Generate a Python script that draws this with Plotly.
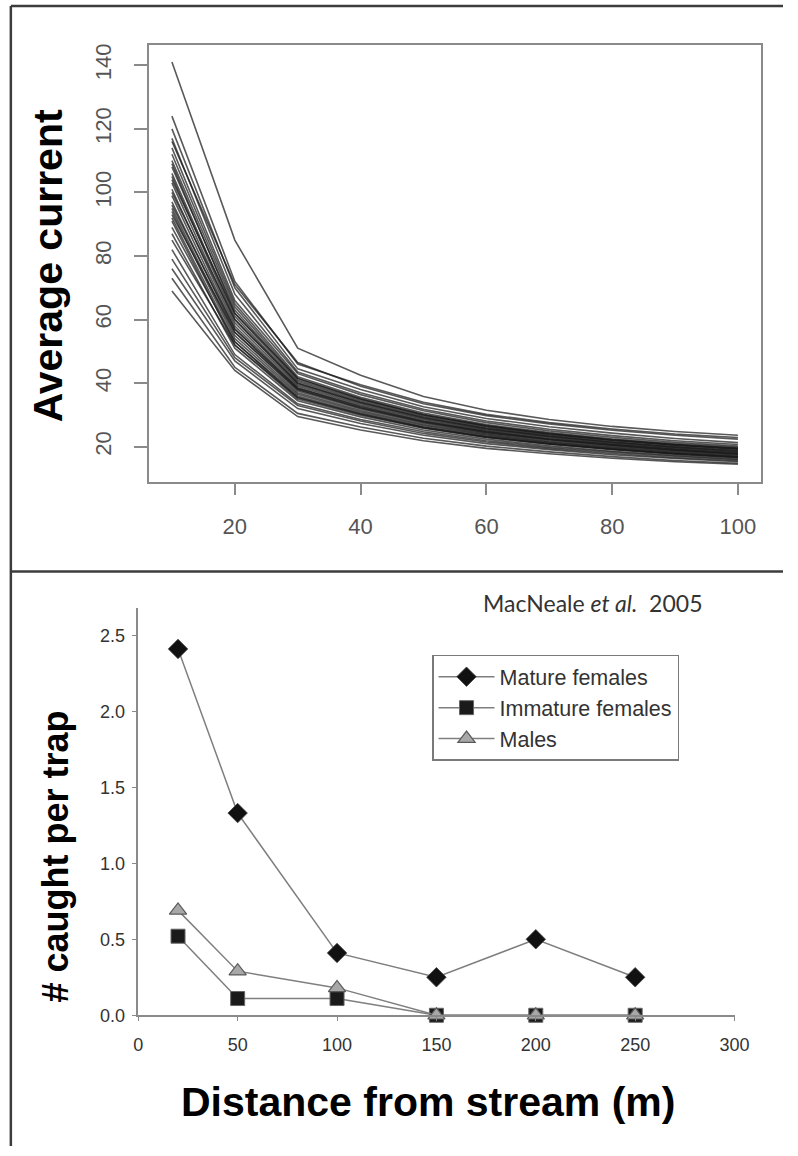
import plotly.graph_objects as go

# ---------------- data: top panel (average current vs distance) ----------------
dist_top = [10, 20, 30, 40, 50, 60, 70, 80, 90, 100]
curves = [
    [141, 85, 51.0, 42.5, 35.8, 31.5, 28.6, 26.4, 24.8, 23.6],
    [124, 72, 46.0, 39.5, 34.0, 30.2, 27.6, 25.6, 24.0, 22.9],
    [120, 70, 44.5, 38.0, 32.6, 28.9, 26.3, 24.3, 22.6, 21.3],
    [117, 68, 43.5, 37.0, 31.8, 28.1, 25.5, 23.5, 21.9, 20.7],
    [116, 71, 46.5, 39.0, 33.5, 29.8, 27.2, 25.2, 23.6, 22.4],
    [114, 66, 43.0, 36.4, 31.3, 27.6, 25.0, 23.0, 21.4, 20.2],
    [112, 65, 42.0, 35.6, 30.6, 27.0, 24.5, 22.5, 21.0, 19.8],
    [110, 64, 41.5, 35.0, 30.0, 26.5, 24.0, 22.1, 20.6, 19.5],
    [109, 62, 40.5, 34.4, 29.6, 26.2, 23.8, 21.9, 20.4, 19.2],
    [108, 63, 41.0, 34.8, 30.0, 26.6, 24.1, 22.2, 20.7, 19.5],
    [106, 61, 40.0, 33.9, 29.1, 25.7, 23.3, 21.4, 19.9, 18.7],
    [105, 60, 39.5, 33.6, 28.9, 25.6, 23.2, 21.3, 19.8, 18.6],
    [104, 62, 41.5, 35.2, 30.2, 26.7, 24.2, 22.2, 20.6, 19.3],
    [103, 59, 39.0, 33.2, 28.6, 25.3, 22.9, 21.0, 19.5, 18.3],
    [101, 58, 38.5, 32.8, 28.2, 25.0, 22.6, 20.8, 19.3, 18.1],
    [100, 60, 40.0, 34.0, 29.3, 25.9, 23.5, 21.6, 20.1, 18.9],
    [99, 57, 38.0, 32.3, 27.8, 24.6, 22.3, 20.5, 19.0, 17.8],
    [97, 56, 37.5, 31.9, 27.4, 24.2, 21.9, 20.1, 18.7, 17.5],
    [96, 57, 38.5, 32.6, 28.0, 24.8, 22.4, 20.6, 19.1, 17.9],
    [95, 55, 37.0, 31.4, 27.0, 23.9, 21.6, 19.8, 18.4, 17.2],
    [94, 54, 36.5, 31.0, 26.7, 23.6, 21.4, 19.6, 18.2, 17.0],
    [93, 56, 38.0, 32.2, 27.7, 24.5, 22.2, 20.4, 18.9, 17.7],
    [92, 53, 36.0, 30.6, 26.3, 23.3, 21.1, 19.3, 17.9, 16.8],
    [91, 52, 35.0, 29.9, 25.8, 22.9, 20.8, 19.1, 17.7, 16.6],
    [89, 53, 35.5, 30.2, 26.0, 23.0, 20.9, 19.2, 17.8, 16.7],
    [87, 51, 34.5, 29.4, 25.3, 22.4, 20.3, 18.6, 17.3, 16.2],
    [85, 52, 35.5, 30.3, 26.1, 23.1, 21.0, 19.3, 17.9, 16.8],
    [82, 49, 33.5, 28.6, 24.7, 21.9, 19.9, 18.3, 17.0, 15.9],
    [79, 48, 33.0, 28.1, 24.2, 21.5, 19.5, 17.9, 16.6, 15.6],
    [76, 47, 32.0, 27.3, 23.6, 21.0, 19.1, 17.5, 16.3, 15.3],
    [73, 45, 30.5, 26.2, 22.7, 20.2, 18.4, 16.9, 15.7, 14.8],
    [69, 44, 29.5, 25.3, 21.9, 19.5, 17.8, 16.4, 15.3, 14.5],
]
top_xticks = [20, 40, 60, 80, 100]
top_yticks = [20, 40, 60, 80, 100, 120, 140]

# ---------------- data: bottom panel (catch per trap) ----------------
dist_bottom = [20, 50, 100, 150, 200, 250]
mature_females = [2.41, 1.33, 0.41, 0.25, 0.50, 0.25]
immature_females = [0.52, 0.11, 0.11, 0.0, 0.0, 0.0]
males = [0.69, 0.29, 0.18, 0.0, 0.0, 0.0]
bottom_xticks = [0, 50, 100, 150, 200, 250, 300]
bottom_yticks = [0.0, 0.5, 1.0, 1.5, 2.0, 2.5]
bottom_yticklabels = ["0.0", "0.5", "1.0", "1.5", "2.0", "2.5"]

W, H = 798, 1156
def px(x):
    return x / W
def py(y):
    return 1 - y / H

SANS = "Liberation Sans, Arial, sans-serif"

fig = go.Figure()

for c in curves:
    fig.add_trace(go.Scatter(
        x=dist_top, y=c, mode="lines", showlegend=False, hoverinfo="skip",
        line=dict(color="rgba(25,25,25,0.72)", width=1.6),
        xaxis="x", yaxis="y"))

line_col = "#7f7f7f"
fig.add_trace(go.Scatter(
    x=dist_bottom, y=mature_females, mode="lines+markers", name="Mature females",
    line=dict(color=line_col, width=1.5),
    marker=dict(symbol="diamond", size=15, color="#111111",
                line=dict(color="#444444", width=0.8)),
    cliponaxis=False, xaxis="x2", yaxis="y2"))
fig.add_trace(go.Scatter(
    x=dist_bottom, y=immature_females, mode="lines+markers", name="Immature females",
    line=dict(color=line_col, width=1.5),
    marker=dict(symbol="square", size=14, color="#1a1a1a",
                line=dict(color="#666666", width=1)),
    cliponaxis=False, xaxis="x2", yaxis="y2"))
fig.add_trace(go.Scatter(
    x=dist_bottom, y=males, mode="lines+markers", name="Males",
    line=dict(color=line_col, width=1.5),
    marker=dict(symbol="triangle-up", size=15, color="#a8a8a8",
                line=dict(color="#5a5a5a", width=1.2)),
    cliponaxis=False, xaxis="x2", yaxis="y2"))

axis_col = "#8a8a8a"
tick_font_top = dict(family=SANS, size=22, color="#555555")
tick_font_bot = dict(family=SANS, size=18, color="#333333")

fig.update_layout(
    width=W, height=H, autosize=False,
    margin=dict(l=0, r=0, t=0, b=0),
    paper_bgcolor="white", plot_bgcolor="white",
    xaxis=dict(domain=[px(148), px(775)], range=[6.4, 103.6],
               tickvals=top_xticks, ticks="outside", ticklen=11, tickwidth=1.5,
               tickcolor=axis_col, showline=True, linecolor=axis_col, linewidth=2,
               mirror=True, showgrid=False, zeroline=False,
               tickfont=tick_font_top, ticklabelstandoff=12, anchor="y"),
    yaxis=dict(domain=[py(486), py(44)], range=[8.8, 146.5],
               tickvals=top_yticks, ticks="outside", ticklen=13, tickwidth=1.5,
               tickcolor=axis_col, showline=True, linecolor=axis_col, linewidth=2,
               mirror=True, showgrid=False, zeroline=False, tickangle=-90,
               tickfont=tick_font_top, ticklabelstandoff=14, anchor="x"),
    xaxis2=dict(domain=[px(136.7), px(748.3)], range=[0, 300],
                tickvals=bottom_xticks, ticks="outside", ticklen=4, tickwidth=1,
                tickcolor=axis_col, showline=True, linecolor=axis_col, linewidth=1.5,
                showgrid=False, zeroline=False, tickfont=tick_font_bot,
                ticklabelstandoff=8, anchor="y2"),
    yaxis2=dict(domain=[py(1024), py(612.7)], range=[0, 2.68],
                tickvals=bottom_yticks, ticktext=bottom_yticklabels,
                ticks="outside", ticklen=5, tickwidth=1,
                tickcolor=axis_col, showline=True, linecolor=axis_col, linewidth=1.5,
                showgrid=False, zeroline=False, tickfont=tick_font_bot,
                ticklabelstandoff=3, anchor="x2"),
    legend=dict(x=px(438), y=py(660), xanchor="left", yanchor="top",
                bgcolor="white", bordercolor="#7a7a7a", borderwidth=1.5,
                font=dict(family=SANS, size=21.5, color="#333333"),
                tracegroupgap=0, itemwidth=56),
    showlegend=True,
)

frame_col = "#3c3c3c"
shapes = [
    dict(type="line", xref="paper", yref="paper", x0=px(6), x1=px(6), y0=py(5), y1=0,
         line=dict(color=frame_col, width=2.5)),
    dict(type="line", xref="paper", yref="paper", x0=px(6), x1=1, y0=py(5), y1=py(5),
         line=dict(color=frame_col, width=2.5)),
    dict(type="line", xref="paper", yref="paper", x0=px(6), x1=1, y0=py(576), y1=py(576),
         line=dict(color=frame_col, width=2.5)),
]
fig.update_layout(shapes=shapes)

annotations = [
    dict(text="<b>Average current</b>", x=px(45), y=py(267), xref="paper", yref="paper",
         showarrow=False, textangle=-90, xanchor="center", yanchor="middle",
         font=dict(family=SANS, size=41, color="black")),
    dict(text="<b># caught per trap</b>", x=px(52), y=py(864), xref="paper", yref="paper",
         showarrow=False, textangle=-90, xanchor="center", yanchor="middle",
         font=dict(family=SANS, size=36, color="black")),
    dict(text="<b>Distance from stream (m)</b>", x=px(434), y=py(1112), xref="paper",
         yref="paper", showarrow=False, xanchor="center", yanchor="middle",
         font=dict(family=SANS, size=41, color="black")),
    dict(text="MacNeale <i>et al.</i>  2005", x=px(603), y=py(608), xref="paper",
         yref="paper", showarrow=False, xanchor="center", yanchor="middle",
         font=dict(family="Lato, Open Sans, sans-serif", size=23, color="#333333")),
]
fig.update_layout(annotations=annotations)

post = ("document.documentElement.style.margin='0';"
        "document.body.style.margin='0';document.body.style.padding='0';"
        "document.documentElement.style.overflow='hidden';"
        "document.body.style.overflow='hidden';")

fig.write_html("out.html", config={"responsive": False}, post_script=post)
